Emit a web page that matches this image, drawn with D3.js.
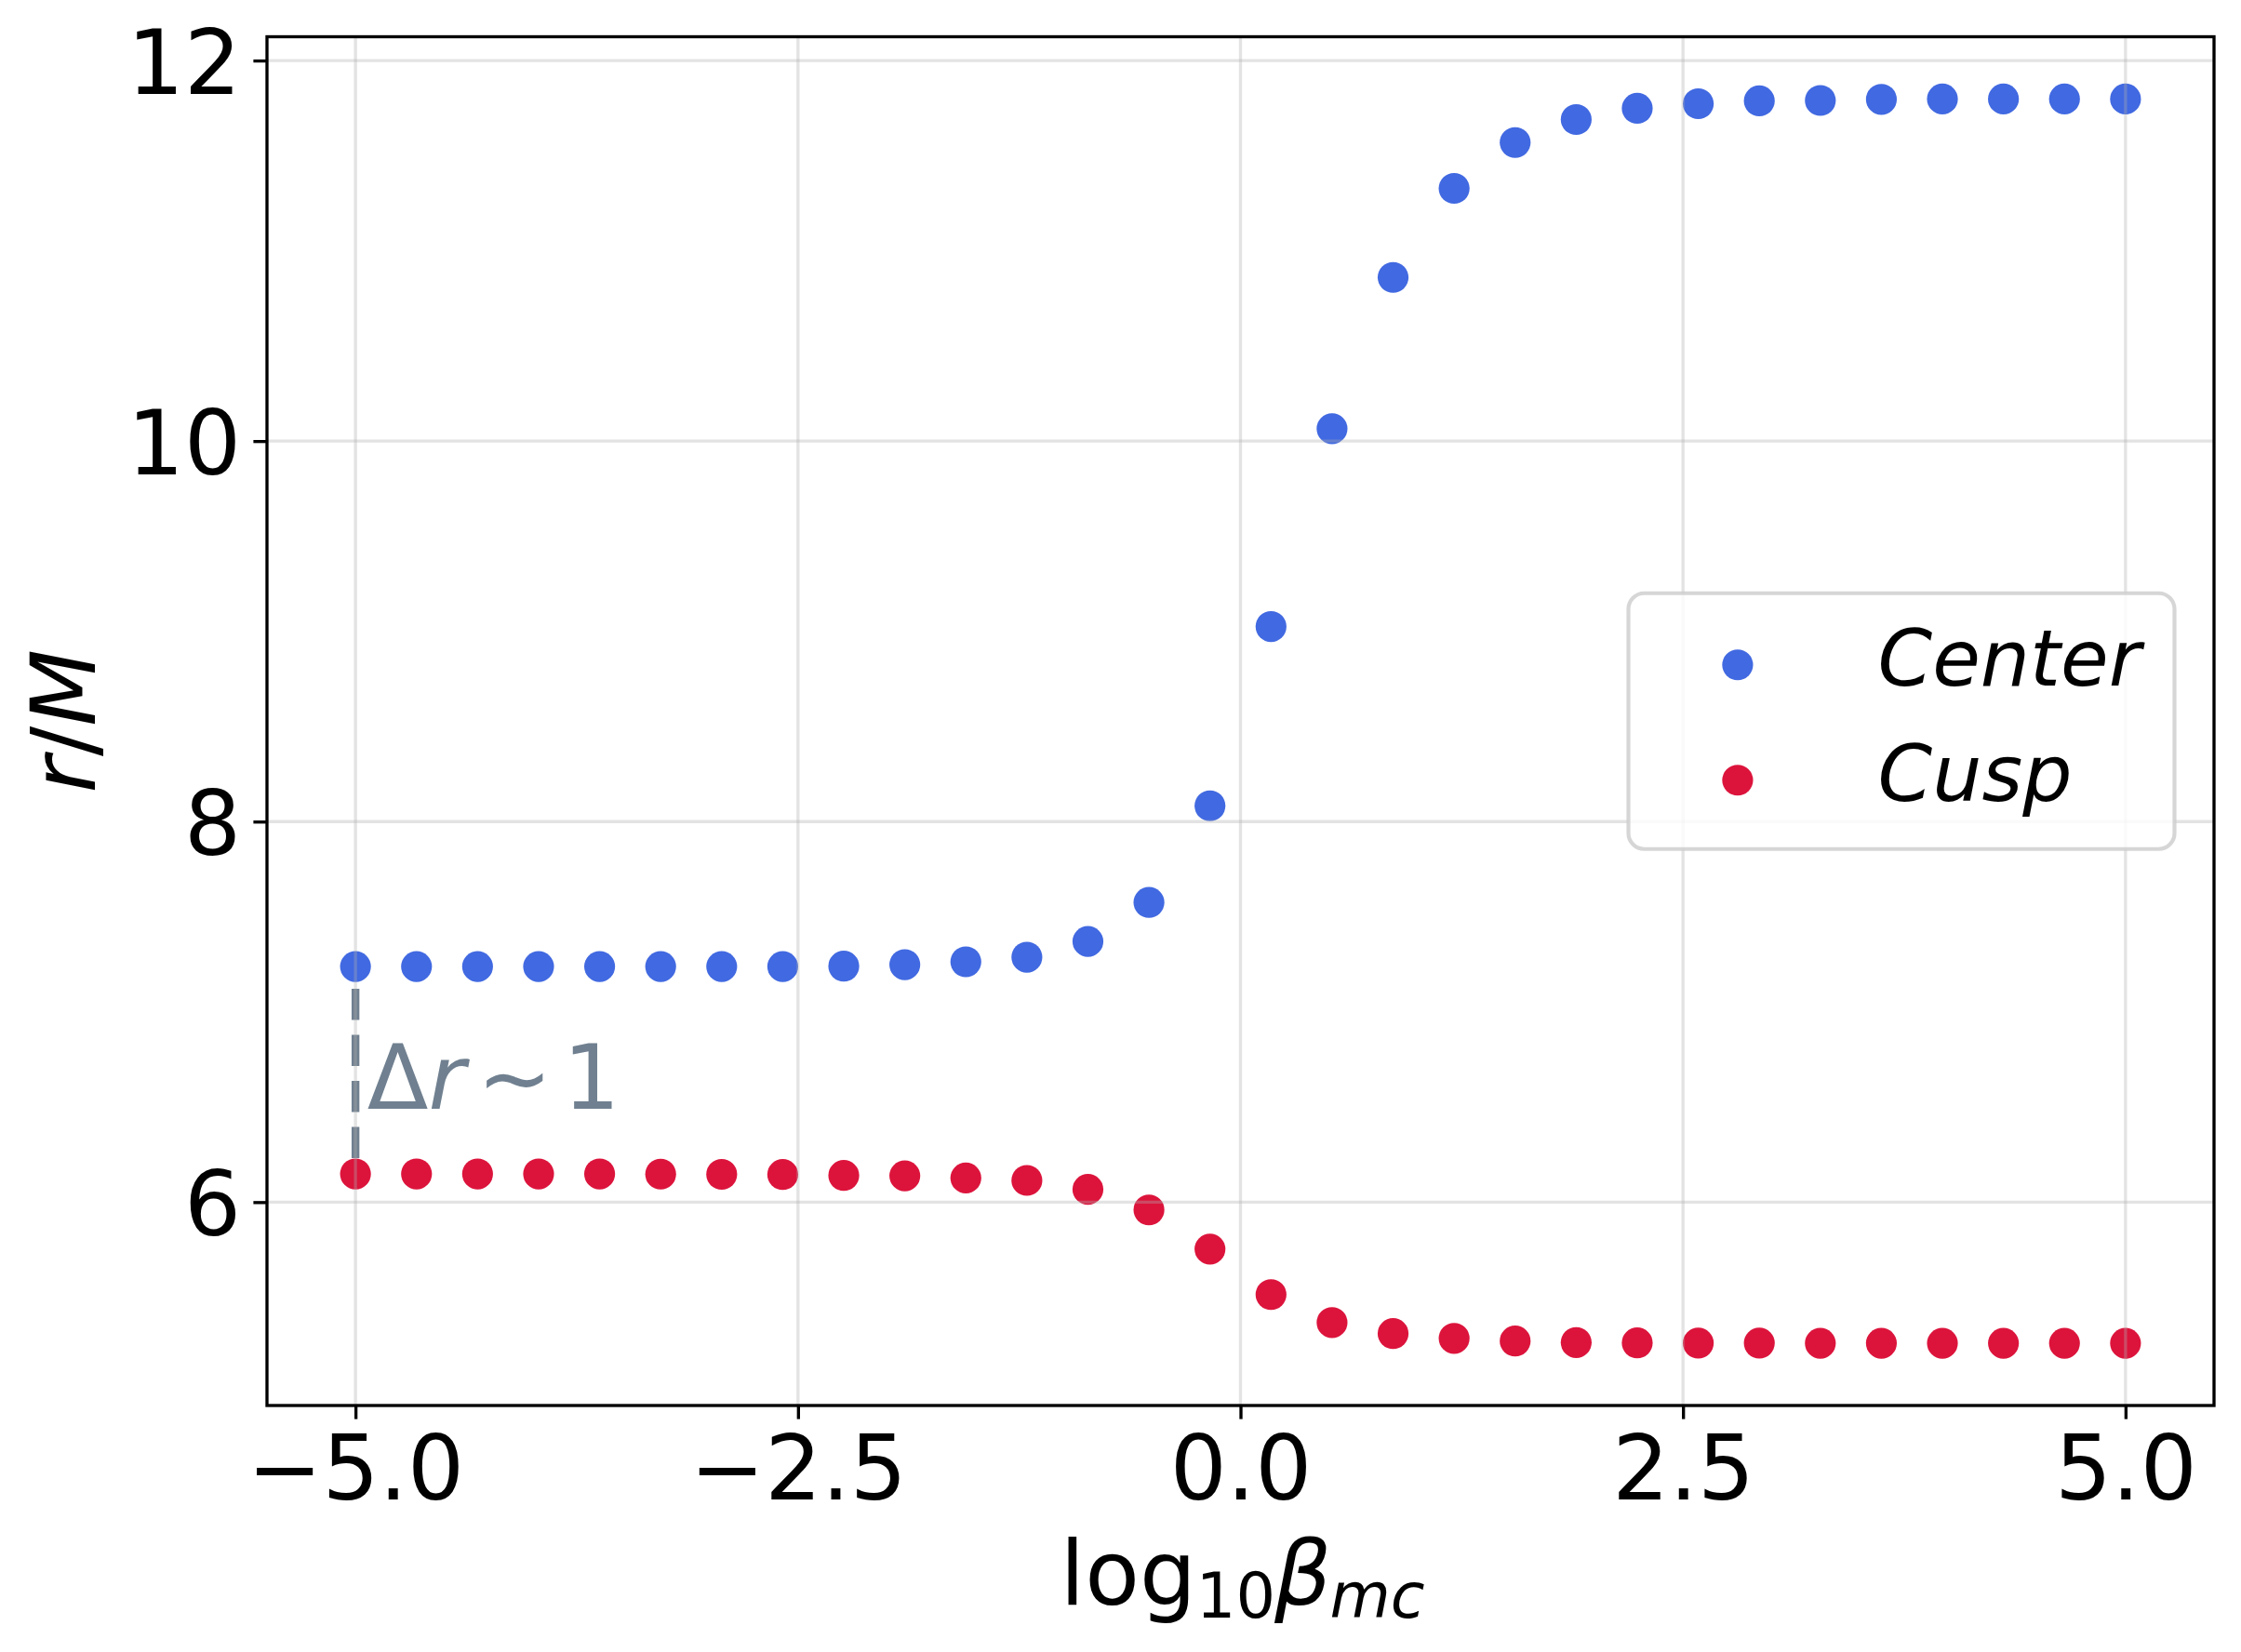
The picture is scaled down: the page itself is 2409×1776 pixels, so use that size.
<!DOCTYPE html>
<html>
<head>
<meta charset="utf-8">
<script src="https://cdn.jsdelivr.net/npm/d3@7"></script>
<style>
  html, body { margin: 0; padding: 0; background: #ffffff; }
  svg { display: block; }
  text { font-family: "DejaVu Sans", sans-serif; }
</style>
</head>
<body>
<svg id="chart" width="2409" height="1776"></svg>
<script>
// ---------------- data ----------------
const logBeta = d3.range(30).map(i => -5 + i * 10 / 29); // linspace(-5, 5, 30) sampling grid
const centerR = [7.238, 7.238, 7.238, 7.238, 7.238, 7.238, 7.238, 7.238, 7.240, 7.248,
                 7.263, 7.287, 7.370, 7.575, 8.083, 9.025, 10.065, 10.860, 11.328, 11.569,
                 11.690, 11.749, 11.773, 11.788, 11.790, 11.796, 11.798, 11.798, 11.798, 11.798];
const cuspR   = [6.148, 6.148, 6.148, 6.148, 6.148, 6.147, 6.146, 6.145, 6.140, 6.138,
                 6.127, 6.114, 6.067, 5.959, 5.753, 5.514, 5.367, 5.309, 5.284, 5.270,
                 5.262, 5.260, 5.259, 5.259, 5.258, 5.258, 5.258, 5.258, 5.258, 5.258];
const seriesNames = ["Center", "Cusp"];
const xTicks = [-5.0, -2.5, 0.0, 2.5, 5.0];
const yTicks = [6, 8, 10, 12];
const annotX = -4.96, annotY = 6.49;

// ---------------- layout ----------------
const W = 2409, H = 1776;
const plot = { left: 287, right: 2380, top: 39.5, bottom: 1511 };
const FS = 96;        // tick / label font size
const LFS = 84;       // legend font size
const colors = { Center: "#4169E1", Cusp: "#DC143C" };
const slate = "#708090";
const lw = 3.33;

const svg = d3.select("#chart");

function padded(ext) {
  const d = ext[1] - ext[0];
  return [ext[0] - 0.05 * d, ext[1] + 0.05 * d];
}
const x = d3.scaleLinear().domain(padded(d3.extent(logBeta))).range([plot.left, plot.right]);
const y = d3.scaleLinear().domain(padded(d3.extent(centerR.concat(cuspR)))).range([plot.bottom, plot.top]);

const fmtX = v => d3.format(".1f")(v).replace("-", "\u2212");

// ---------------- dashed Δr line (under points) ----------------
svg.append("line")
  .attr("x1", x(logBeta[0])).attr("x2", x(logBeta[0]))
  .attr("y1", y(centerR[0])).attr("y2", y(cuspR[0]))
  .attr("stroke", slate).attr("stroke-width", 8.4)
  .attr("stroke-dasharray", "33.5 16").attr("stroke-dashoffset", 25.5);

// ---------------- points ----------------
const series = [
  { name: "Center", values: centerR },
  { name: "Cusp", values: cuspR }
];
series.forEach(s => {
  svg.append("g").selectAll("circle")
    .data(s.values.map((v, i) => ({ x: logBeta[i], y: v })))
    .join("circle")
    .attr("cx", d => x(d.x)).attr("cy", d => y(d.y))
    .attr("r", 16.6)
    .attr("fill", colors[s.name]);
});

// ---------------- grid (on top of points, translucent) ----------------
const grid = svg.append("g").attr("stroke", "#b0b0b0").attr("stroke-opacity", 0.35).attr("stroke-width", lw);
grid.selectAll("line.gx").data(xTicks).join("line")
  .attr("x1", d => x(d)).attr("x2", d => x(d))
  .attr("y1", plot.top).attr("y2", plot.bottom);
grid.selectAll("line.gy").data(yTicks).join("line")
  .attr("y1", d => y(d)).attr("y2", d => y(d))
  .attr("x1", plot.left).attr("x2", plot.right);

// ---------------- axes ----------------
const xAxis = d3.axisBottom(x).tickValues(xTicks).tickFormat(fmtX).tickSize(14.6).tickPadding(0);
const gx = svg.append("g").attr("transform", `translate(0,${plot.bottom})`).call(xAxis);
gx.select(".domain").remove();
gx.selectAll(".tick line").attr("stroke", "#000").attr("stroke-width", lw);
gx.selectAll(".tick text")
  .attr("y", 1611.5 - plot.bottom).attr("dy", null)
  .attr("fill", "#000")
  .style("font-size", FS + "px")
  .style("font-family", "'DejaVu Sans', sans-serif");

const yAxis = d3.axisLeft(y).tickValues(yTicks).tickFormat(d3.format("d")).tickSize(14.6).tickPadding(0);
const gy = svg.append("g").attr("transform", `translate(${plot.left},0)`).call(yAxis);
gy.select(".domain").remove();
gy.selectAll(".tick line").attr("stroke", "#000").attr("stroke-width", lw);
gy.selectAll(".tick text")
  .attr("x", 259 - plot.left).attr("dy", null).attr("y", 35.5)
  .attr("fill", "#000")
  .style("font-size", FS + "px")
  .style("font-family", "'DejaVu Sans', sans-serif");

// spines
svg.append("rect")
  .attr("x", plot.left).attr("y", plot.top)
  .attr("width", plot.right - plot.left).attr("height", plot.bottom - plot.top)
  .attr("fill", "none").attr("stroke", "#000").attr("stroke-width", lw);

// ---------------- axis labels ----------------
const xl = svg.append("text")
  .attr("x", (plot.left + plot.right) / 2 + 2).attr("y", 1725)
  .attr("text-anchor", "middle").style("font-size", FS + "px").attr("fill", "#000");
xl.append("tspan").text("log");
xl.append("tspan").attr("dy", 14).style("font-size", "67px").text("10");
xl.append("tspan").attr("dy", -14).attr("dx", -1).style("font-style", "italic").text("\u03B2");
xl.append("tspan").attr("dy", 14).attr("dx", -2).style("font-style", "italic").style("font-size", "67px").text("mc");

const yl = svg.append("text")
  .attr("transform", `translate(102,${(plot.top + plot.bottom) / 2}) rotate(-90)`)
  .attr("text-anchor", "middle").style("font-size", FS + "px").attr("fill", "#000");
yl.append("tspan").style("font-style", "italic").text("r");
yl.append("tspan").text("/");
yl.append("tspan").style("font-style", "italic").text("M");

// ---------------- annotation ----------------
const an = svg.append("text")
  .attr("x", x(annotX) + 5).attr("y", y(annotY))
  .style("font-size", FS + "px").attr("fill", slate);
an.append("tspan").text("\u0394");
an.append("tspan").style("font-style", "italic").text("r");
an.append("tspan").attr("dx", 13).text("\u223C");
an.append("tspan").attr("dx", 12).text("1");

// ---------------- legend ----------------
const legW = 587, legH = 275;
const legRight = plot.right - 42.5;
const legLeft = legRight - legW;
const legTop = (plot.top + plot.bottom) / 2 - legH / 2;
const leg = svg.append("g").attr("transform", `translate(${legLeft},${legTop})`);
leg.append("rect")
  .attr("x", 0).attr("y", 0).attr("width", legW).attr("height", legH)
  .attr("rx", 17).attr("ry", 17)
  .attr("fill", "#ffffff").attr("fill-opacity", 0.8)
  .attr("stroke", "#cccccc").attr("stroke-opacity", 0.8).attr("stroke-width", 4.17);
const legRows = leg.selectAll("g.row").data(seriesNames).join("g")
  .attr("transform", (d, i) => `translate(0,${77 + i * 124})`);
legRows.append("circle").attr("cx", 117.4).attr("cy", 0).attr("r", 16.6)
  .attr("fill", d => colors[d]);
legRows.append("text").attr("x", 268).attr("y", 22.5)
  .style("font-size", LFS + "px").style("font-style", "italic").attr("fill", "#000")
  .text(d => d);
</script>
</body>
</html>
